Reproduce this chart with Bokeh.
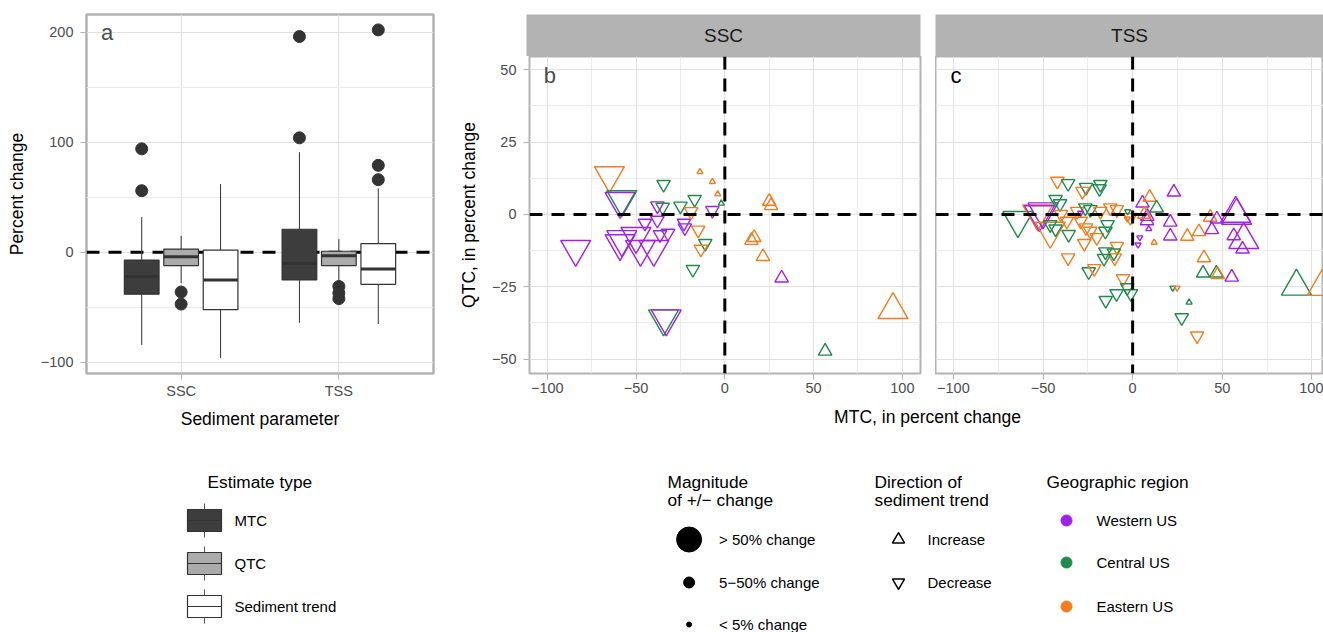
from bokeh.plotting import figure
from bokeh.models import Range1d, FixedTicker, Span, Label, ColumnDataSource
from bokeh.layouts import row, column
from bokeh.embed import file_html
from bokeh.resources import INLINE
from bokeh.core.properties import value
from bokeh.transform import factor_cmap, factor_mark

FONT = "Liberation Sans"

# ---------------- panel a: boxplots ----------------
params = ["SSC", "TSS"]
est_types = ["MTC", "QTC", "Sediment trend"]
box_fills = ["#3d3d3d", "#ababab", "#ffffff"]
# order: SSC-MTC, SSC-QTC, SSC-trend, TSS-MTC, TSS-QTC, TSS-trend
box_q1 = [-38, -12, -52, -25, -12, -29]
box_med = [-22, -4, -25, -10, -3, -15]
box_q3 = [-7, 3, 2, 21, 1, 8]
box_lo = [-84, -28, -96, -64, -27, -65]
box_hi = [32, 15, 62, 91, 12, 58]
out_param = ["SSC", "SSC", "SSC", "SSC", "TSS", "TSS", "TSS", "TSS", "TSS", "TSS", "TSS", "TSS"]
out_type = ["MTC", "MTC", "QTC", "QTC", "MTC", "MTC", "QTC", "QTC", "QTC",
            "Sediment trend", "Sediment trend", "Sediment trend"]
out_value = [94, 56, -36, -47, 196, 104, -31, -37, -42, 202, 79, 66]

# ---------------- panels b, c: scatter ----------------
region_codes = ["W", "C", "E"]
region_names = ["Western US", "Central US", "Eastern US"]
region_colors = ["#a020f0", "#1e8b4c", "#f47c1c"]
dir_codes = ["I", "D"]
dir_names = ["Increase", "Decrease"]
mag_codes = ["L", "M", "S"]
mag_names = ["> 50% change", "5\u221250% change", "< 5% change"]

ssc_mtc = [-65, -59, -58, -84, -58, -59, -50, -47.5, -40, -34.5, -33, 94.7,
           -34.5, -17, -25, -7, -38, -35, -45, -38, -36.5, -32, -23, -22.5, -19, -15, -11, -13.5, -18,
           26, 25, 15, 16.5, 21.5, 32, 56.5,
           -2, -14, -7, -4]
ssc_qtc = [13.5, 4.6, 5.2, -12, -8.6, -10, -7.5, -12, -12, -36, -36, -33,
           10.4, 5.2, 2.9, 1.4, 3, 2.5, -3, -2, -7, -6.5, -3, -4.6, 1, -5.4, -10, -12, -19,
           3, 4.5, -9, -8, -14.6, -22, -47.3,
           3.8, 14.7, 11.3, 7]
ssc_region = ["E", "W", "C", "W", "W", "W", "W", "W", "W", "C", "W", "E",
              "C", "C", "C", "W", "W", "C", "W", "W", "W", "W", "W", "W", "E", "E", "C", "E", "C",
              "E", "E", "E", "E", "E", "W", "C",
              "C", "E", "E", "E"]
ssc_dir = ["D"] * 11 + ["I"] + ["D"] * 17 + ["I"] * 7 + ["I"] * 4
ssc_mag = ["L"] * 12 + ["M"] * 24 + ["S"] * 4

tss_mtc = [-64, -53, -52, -50, -46, 58, 57.5, 62, 91.4, 105.8,
           -42, -36, -26, -18, -18.5, -28, -43, -40.5, -31, -26.4, -23.6, -18, -12.5, -8.8, -1.3,
           -29, -26, -23.6, -20, -15.2, -8.8, -15.2, -10.5, -35.7, -36, -46, -43, -36.7, -27, -10,
           -16, -24.5, -21.4, -5.4, -3, -1, -9, -15, 27.4, 36, -40, -14,
           -29, -2.8, -3, 4, 3, 22.4, 24.8,
           5.5, 9.5, 13.4, 23, 8.2, 8, 6.5, 21, 21, 30.5, 37, 43.3, 44.2, 47, 56.4, 61.3,
           39.8, 39.3, 46.7, 47.5, 55.3,
           9, 12, 31.5]
tss_qtc = [-2, 0.3, 0, 1, -5.7, -0.4, 0.3, -8.8, -24.9, -25,
           11.5, 10.7, 9.4, 10.4, 8.9, 8, 5.2, 3.7, 1.1, 2.3, 1.7, 1.1, 2.3, 1.7, -1,
           -2.3, -4.6, -5.8, -8, -5.8, -11, -12.9, -13.3, -6.9, -15, -3.5, -5, -2.3, -10, -15,
           -15.2, -19.8, -18.7, -22.2, -25.3, -27.4, -27.4, -29.7, -35.7, -42, 0, -3.5,
           0.5, 1, -1.5, -8, -10.5, -25.4, -25.4,
           3.9, 5.9, 2.2, 7.7, -0.7, -2.2, 0, -2.7, -7.5, -7.6, -6, -1, -5.3, -1.6, -7.4, -12,
           -15, -20.3, -20.3, -20.8, -21.7,
           -5, -9.7, -30.4]
tss_region = ["C", "E", "W", "W", "E", "W", "W", "W", "C", "E",
              "E", "C", "C", "C", "C", "E", "C", "C", "E", "C", "C", "E", "E", "E", "E",
              "E", "E", "E", "E", "C", "E", "C", "C", "C", "E", "C", "C", "E", "E", "E",
              "C", "C", "E", "E", "C", "C", "C", "C", "C", "E", "E", "C",
              "W", "C", "E", "W", "W", "C", "E",
              "W", "E", "C", "W", "W", "W", "E", "W", "W", "E", "E", "E", "W", "W", "W", "W",
              "E", "C", "C", "E", "W",
              "W", "E", "C"]
tss_dir = ["D"] * 5 + ["I"] * 5 + ["D"] * 42 + ["D"] * 7 + ["I"] * 21 + ["I"] * 3
tss_mag = ["L"] * 10 + ["M"] * 42 + ["S"] * 7 + ["M"] * 21 + ["S"] * 3

# ---------------- styling helpers ----------------
BORDER = "#b3b3b3"
GRID_MAJOR = "#e0e0e0"
GRID_MINOR = "#ececec"
TICK_TXT = "#4d4d4d"
DASH = "13 9"
MAG_SIZE = {"L": 30, "M": 13.5, "S": 6}


def style_axes(p):
    p.axis.axis_line_color = None
    p.axis.major_tick_line_color = BORDER
    p.axis.major_tick_in = 0
    p.axis.major_tick_out = 6
    p.axis.minor_tick_line_color = None
    p.axis.major_label_text_font = FONT
    p.axis.major_label_text_font_size = "14.5px"
    p.axis.major_label_text_color = TICK_TXT
    p.axis.major_label_standoff = 5
    p.axis.axis_label_text_font = FONT
    p.axis.axis_label_text_font_size = "17.5px"
    p.axis.axis_label_text_font_style = "normal"
    p.axis.axis_label_text_color = "black"
    p.grid.grid_line_color = GRID_MAJOR
    p.grid.grid_line_width = 1
    p.grid.minor_grid_line_color = GRID_MINOR
    p.grid.minor_grid_line_width = 1


def bare(p):
    p.grid.visible = False
    p.outline_line_color = None


# ---------------- panel a ----------------
pa = figure(width=455, height=440, x_range=Range1d(0.4, 2.6), y_range=Range1d(-110, 216),
            output_backend="svg", toolbar_location=None,
            min_border_left=86, min_border_right=22, min_border_top=14, min_border_bottom=67,
            outline_line_color=BORDER, outline_line_width=2.5)
style_axes(pa)
xt_a = FixedTicker(ticks=[1, 2])
yt_a = FixedTicker(ticks=[-100, 0, 100, 200], minor_ticks=[-50, 50, 150])
pa.xaxis.ticker = xt_a
pa.xgrid.ticker = xt_a
pa.yaxis.ticker = yt_a
pa.ygrid.ticker = yt_a
pa.xaxis.major_label_overrides = {i + 1: name for i, name in enumerate(params)}
pa.yaxis.major_label_overrides = {-100: "\u2212100"}
pa.xaxis.major_label_standoff = 3
pa.yaxis.major_label_standoff = 7
pa.xaxis.axis_label = "Sediment parameter"
pa.yaxis.axis_label = "Percent change"
pa.xaxis.axis_label_standoff = 7
pa.yaxis.axis_label_standoff = 11

pa.add_layout(Span(location=0, dimension="width", line_color="black", line_width=3,
                   line_dash=DASH, level="underlay"))

nt = len(est_types)
pos = [i + 1 + (j - (nt - 1) / 2) * 0.25 for i in range(len(params)) for j in range(nt)]
fills = [box_fills[j] for i in range(len(params)) for j in range(nt)]
hw = 0.11
bsrc = ColumnDataSource(dict(x=pos, l=[x - hw for x in pos], r=[x + hw for x in pos],
                             q1=box_q1, q3=box_q3, med=box_med, lo=box_lo, hi=box_hi, fill=fills))
pa.segment("x", "lo", "x", "q1", source=bsrc, line_color="#333333", line_width=1)
pa.segment("x", "q3", "x", "hi", source=bsrc, line_color="#333333", line_width=1)
pa.quad(left="l", right="r", bottom="q1", top="q3", source=bsrc, fill_color="fill",
        line_color="#333333", line_width=1.2)
pa.segment("l", "med", "r", "med", source=bsrc, line_color="#333333", line_width=3)
out_x = [params.index(op) + 1 + (est_types.index(ot) - (nt - 1) / 2) * 0.25
         for op, ot in zip(out_param, out_type)]
pa.scatter(out_x, out_value, size=12, color="#333333")
pa.add_layout(Label(x=0.53, y=200, text="a", text_align="center", text_baseline="middle",
                    text_font=FONT, text_font_size="22px", text_color="#4d4d4d"))


# ---------------- panels b, c ----------------
def scatter_panel(width, x_end, min_left, min_right, mtc, qtc, reg, dirn, mag, letter, letter_color, show_y):
    p = figure(width=width, height=349, x_range=Range1d(-110, x_end), y_range=Range1d(-55, 54.6),
               output_backend="svg", toolbar_location=None,
               min_border_left=min_left, min_border_right=min_right, min_border_top=0, min_border_bottom=32,
               outline_line_color=BORDER, outline_line_width=2)
    style_axes(p)
    xt = FixedTicker(ticks=[-100, -50, 0, 50, 100], minor_ticks=[-75, -25, 25, 75])
    yt = FixedTicker(ticks=[-50, -25, 0, 25, 50], minor_ticks=[-37.5, -12.5, 12.5, 37.5])
    p.xaxis.ticker = xt
    p.xgrid.ticker = xt
    p.yaxis.ticker = yt
    p.ygrid.ticker = yt
    p.xaxis.major_label_overrides = {-100: "\u2212100", -50: "\u221250"}
    p.yaxis.major_label_overrides = {-50: "\u221250", -25: "\u221225"}
    p.xaxis.major_label_standoff = 3
    p.yaxis.major_label_standoff = 7
    if show_y:
        p.yaxis.axis_label = "QTC, in percent change"
        p.yaxis.axis_label_standoff = 10
    else:
        p.yaxis.visible = False
    src = ColumnDataSource(dict(x=mtc, y=qtc, region=reg, dir=dirn,
                                size=[MAG_SIZE[m] for m in mag]))
    p.scatter("x", "y", source=src, size="size",
              marker=factor_mark("dir", ["triangle", "inverted_triangle"], dir_codes),
              fill_color=None, line_width=1.4,
              line_color=factor_cmap("region", region_colors, region_codes))
    p.add_layout(Span(location=0, dimension="width", line_color="black", line_width=3, line_dash=DASH))
    p.add_layout(Span(location=0, dimension="height", line_color="black", line_width=3, line_dash=DASH))
    p.add_layout(Label(x=-98.5, y=48.2, text=letter, text_align="center", text_baseline="middle",
                       text_font=FONT, text_font_size="22px", text_color=letter_color))
    return p


pb = scatter_panel(480, 110.2, 71, 15, ssc_mtc, ssc_qtc, ssc_region, ssc_dir, ssc_mag, "b", "#4d4d4d", True)
pc = scatter_panel(388, 106.5, 0, 0, tss_mtc, tss_qtc, tss_region, tss_dir, tss_mag, "c", "#000000", False)


def strip(width, min_left, min_right, label):
    s = figure(width=width, height=56, x_range=Range1d(0, 1), y_range=Range1d(0, 1),
               min_border_left=min_left, min_border_right=min_right, min_border_top=14, min_border_bottom=0,
               x_axis_location=None, y_axis_location=None, background_fill_color="#b3b3b3",
               output_backend="svg", toolbar_location=None)
    bare(s)
    s.add_layout(Label(x=0.5, y=0.5, text=label, text_align="center", text_baseline="middle",
                       text_font=FONT, text_font_size="19px", text_color="#1a1a1a"))
    return s


sb = strip(480, 71, 15, params[0])
sc = strip(388, 0, 0, params[1])

# shared x axis title
tf = figure(width=868, height=35, x_range=Range1d(0, 868), y_range=Range1d(35, 0),
            min_border=0, x_axis_location=None, y_axis_location=None,
            output_backend="svg", toolbar_location=None)
bare(tf)
tf.text(x=[472], y=[11], text=["MTC, in percent change"], text_align="center", text_baseline="middle",
        text_font=value(FONT), text_font_size="17.5px", text_color="black")

# ---------------- legends ----------------
lg = figure(width=1323, height=192, x_range=Range1d(0, 1323), y_range=Range1d(632, 440),
            min_border=0, x_axis_location=None, y_axis_location=None,
            output_backend="svg", toolbar_location=None)
bare(lg)


def ltext(xs, ys, texts, size="15px"):
    lg.text(x=xs, y=ys, text=texts, text_align="left", text_baseline="middle",
            text_font=value(FONT), text_font_size=size, text_color="black")


TITLE_SIZE = "17.3px"
# Estimate type
ltext([207], [481], ["Estimate type"], TITLE_SIZE)
key_y = [520, 563, 606]
lg.segment(x0=[204] * 3, y0=[y - 17 for y in key_y], x1=[204] * 3, y1=[y + 17 for y in key_y],
           line_color="#555555", line_width=1)
lg.quad(left=[187] * 3, right=[221] * 3, top=[y - 11 for y in key_y], bottom=[y + 11 for y in key_y],
        fill_color=box_fills, line_color="#333333", line_width=1.2)
lg.segment(x0=[187] * 3, y0=key_y, x1=[221] * 3, y1=key_y, line_color="#333333", line_width=1.2)
ltext([234] * 3, key_y, est_types)

# Magnitude
ltext([667, 667], [481, 499], ["Magnitude", "of +/\u2212 change"], TITLE_SIZE)
mag_y = [539, 582, 624]
lg.scatter([688.6] * 3, mag_y, size=[25, 11, 5], color="black")
ltext([718.6] * 3, mag_y, mag_names)

# Direction
ltext([874, 874], [481, 499], ["Direction of", "sediment trend"], TITLE_SIZE)
dir_y = [539, 582]
lg.scatter([898] * 2, dir_y, size=12, marker=["triangle", "inverted_triangle"],
           fill_color=None, line_color="black", line_width=1.5)
ltext([927] * 2, dir_y, dir_names)

# Region
ltext([1046], [481], ["Geographic region"], TITLE_SIZE)
reg_y = [520, 562, 606]
lg.scatter([1066] * 3, reg_y, size=11, color=region_colors)
ltext([1096] * 3, reg_y, region_names)

layout = column(row(pa, column(row(sb, sc), row(pb, pc), tf)), lg)
open("out.html", "w").write(file_html(layout, INLINE))
